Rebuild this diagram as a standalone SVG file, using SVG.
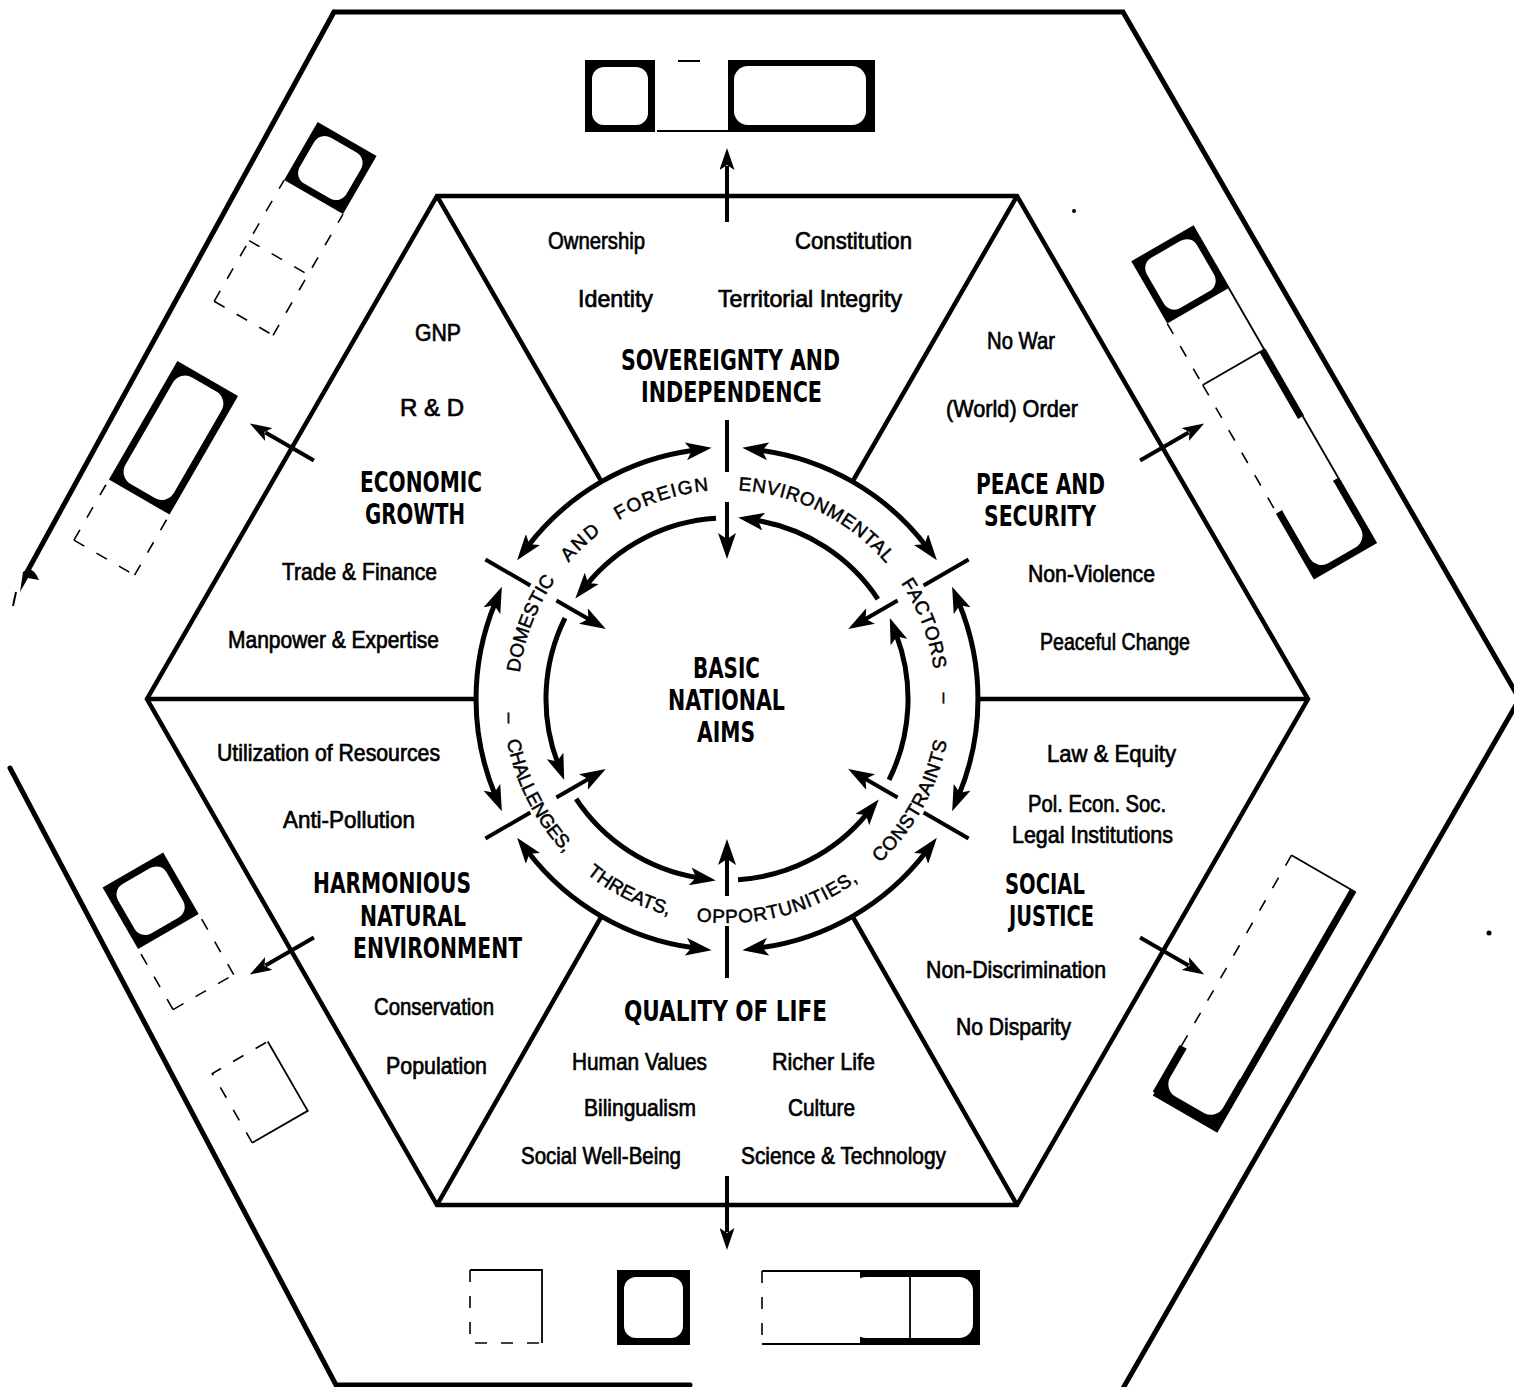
<svg xmlns="http://www.w3.org/2000/svg" width="1514" height="1387" viewBox="0 0 1514 1387">
<defs>
<style>
.ol{fill:none;stroke:#000;stroke-width:5;stroke-linecap:round}
.ln{fill:none;stroke:#000;stroke-width:4.5;stroke-linejoin:miter}
.ring{fill:none;stroke:#000;stroke-width:5}
.tick{fill:none;stroke:#000;stroke-width:4}
.hd{font-family:"Liberation Sans Narrow","DejaVu Sans Condensed","Liberation Sans",sans-serif;font-weight:bold;font-size:29px;text-anchor:middle;fill:#000}
.lb{font-family:"Liberation Sans Narrow","Liberation Sans",sans-serif;font-size:24px;text-anchor:middle;fill:#000;stroke:#000;stroke-width:0.7}
.rt{font-family:"Liberation Sans",Arial,sans-serif;font-size:19px;fill:#000;text-anchor:middle;stroke:#000;stroke-width:0.5}
.bk{fill:#000}
.wh{fill:#fff}
.ds{fill:none;stroke:#000;stroke-width:1.6;stroke-dasharray:12 14}
.tn{fill:none;stroke:#000;stroke-width:1.8}
.thk{fill:none;stroke:#000;stroke-width:7}
.arr{fill:none;stroke:#000;stroke-width:4;marker-end:url(#ah2)}
.dh{marker-start:url(#ah);marker-end:url(#ah)}
.sh{marker-end:url(#ah)}
</style>
<marker id="ah" viewBox="0 0 26 18" refX="8" refY="9" markerWidth="26" markerHeight="18" markerUnits="userSpaceOnUse" orient="auto-start-reverse"><path d="M0,0 L26,9 L0,18 L6,9 z" fill="#000"/></marker>
<marker id="ah2" viewBox="0 0 22 15" refX="4" refY="7.5" markerWidth="22" markerHeight="15" markerUnits="userSpaceOnUse" orient="auto"><path d="M0,0 L22,7.5 L0,15 L5,7.5 z" fill="#000"/></marker>
<path id="tpU" d="M530.6,770.5 A209,209 0 1,1 923.4,770.5" fill="none"/>
<path id="tpL" d="M506.4,660.1 A224,224 0 1,0 947.6,660.1" fill="none"/>
</defs>
<rect width="1514" height="1387" fill="#fff"/>

<g id="outer-hexagon">
<path class="ol" d="M334,12 L1123,12 L1516,693"/>
<path class="ol" d="M1516,705 L1122,1390"/>
<path class="ol" d="M334,12 L27,572"/>
<path class="ol" d="M10,768 L336,1385 L690,1385"/>
<path d="M20,592 L23,572 Q32,564 39,580 L28,578 Z" fill="#000"/>
<path d="M16,592 L13,606" stroke="#000" stroke-width="2"/>
<circle cx="1074" cy="211" r="2" fill="#000"/>
<circle cx="1489" cy="933" r="2.5" fill="#000"/>
</g>

<g id="bands">
<g id="band-top">
<rect class="bk" x="585" y="60" width="70" height="72"/>
<rect class="wh" x="592" y="67" width="56" height="58" rx="12"/>
<path class="tn" d="M678,61 H700 M657,131 H728"/>
<rect class="bk" x="728" y="60" width="147" height="72"/>
<rect class="wh" x="734" y="66" width="132" height="59" rx="14"/>
</g>
<g id="band-upper-right" transform="rotate(60 727 699)">
<rect class="bk" x="550" y="58" width="72" height="72"/>
<rect class="wh" x="557" y="65" width="58" height="58" rx="12"/>
<path class="tn" d="M622,59 H693"/>
<path class="ds" d="M622,130 H693"/>
<path class="thk" d="M693,61 H770"/>
<path class="tn" d="M693,58 V130 M770,59 H841"/>
<path class="ds" d="M693,130 H841"/>
<rect class="bk" x="841" y="58" width="76" height="73"/>
<rect class="wh" x="830" y="65" width="80" height="59" rx="14"/>
</g>
<g id="band-upper-left" transform="rotate(-60 727 699)">
<rect class="bk" x="955" y="56" width="67" height="68"/>
<rect class="wh" x="962" y="63" width="53" height="54" rx="12"/>
<path class="ds" d="M815,56 H955 M815,124 H955 M885,56 V124 M815,56 V124"/>
<rect class="bk" x="608" y="54" width="137" height="70"/>
<rect class="wh" x="615" y="61" width="123" height="56" rx="14"/>
<path class="ds" d="M538,54 H608 M538,124 H608 M538,54 V124"/>
</g>
<g id="band-lower-left" transform="rotate(-120 727 699)">
<rect class="bk" x="805" y="64" width="71" height="70"/>
<rect class="wh" x="812" y="71" width="57" height="56" rx="12"/>
<path class="ds" d="M735,64 H805 M735,134 H805 M735,64 V134"/>
<path class="tn" d="M580,66 V130 H660"/>
<path class="ds" d="M580,66 H660 V130"/>
</g>
<g id="band-lower-right" transform="rotate(120 727 699)">
<path class="thk" d="M580,61 H854 V132"/>
<path class="tn" d="M580,58 V132"/>
<path class="ds" d="M580,132 H854"/>
<rect class="bk" x="800" y="58" width="54" height="76"/>
<rect class="wh" x="780" y="65" width="67" height="61" rx="14"/>
</g>
<g id="band-bottom">
<path class="tn" d="M470,1270 H542 V1343"/>
<path class="ds" d="M470,1270 V1343 H542"/>
<rect class="bk" x="617" y="1270" width="73" height="75"/>
<rect class="wh" x="624" y="1277" width="59" height="61" rx="12"/>
<rect class="bk" x="860" y="1270" width="120" height="75"/>
<rect class="wh" x="852" y="1277" width="121" height="61" rx="14"/>
<path class="tn" d="M762,1271 H860 M762,1344 H860 M910,1272 V1343"/>
<path class="ds" d="M762,1271 V1344"/>
</g>
</g>

<g id="inner-hexagon">
<polygon class="ln" points="437,196 1017,196 1308,699 1017,1205 437,1205 147,699"/>
</g>

<g id="connectors">
<path class="ln" d="M1308,699 L978,699 M1017,196 L852.5,481.6 M437,196 L601.5,481.6 M147,699 L476,699 M437,1205 L601.5,916.4 M1017,1205 L852.5,916.4"/>
<g id="outer-ring">
<path class="ring dh" d="M925.9,545.9 A251,251 0 0 0 760.2,450.2"/>
<path class="ring dh" d="M693.8,450.2 A251,251 0 0 0 528.1,545.9"/>
<path class="ring dh" d="M495.0,603.3 A251,251 0 0 0 495.0,794.7"/>
<path class="ring dh" d="M528.1,852.1 A251,251 0 0 0 693.8,947.8"/>
<path class="ring dh" d="M760.2,947.8 A251,251 0 0 0 925.9,852.1"/>
<path class="ring dh" d="M959.0,794.7 A251,251 0 0 0 959.0,603.3"/>
<path class="tick" d="M923.6,585.5 L968.6,559.5 M727,472 L727,420 M530.4,585.5 L485.4,559.5 M530.4,812.5 L485.4,838.5 M727,926 L727,978 M923.6,812.5 L968.6,838.5"/>
</g>
<g id="inner-ring">
<path class="ring sh" d="M877.9,599.1 A181,181 0 0 0 755.9,520.3"/>
<path class="ring sh" d="M716.0,518.3 A181,181 0 0 0 586.7,584.6"/>
<path class="ring sh" d="M565.0,618.2 A181,181 0 0 0 557.8,763.3"/>
<path class="ring sh" d="M576.1,798.9 A181,181 0 0 0 698.1,877.7"/>
<path class="ring sh" d="M738.0,879.7 A181,181 0 0 0 867.3,813.4"/>
<path class="ring sh" d="M889.0,779.8 A181,181 0 0 0 896.2,634.7"/>
<path class="tick sh" d="M897.6,600.5 L863.8,620"/>
<path class="tick sh" d="M727,502 L727,541"/>
<path class="tick sh" d="M556.4,600.5 L590.2,620"/>
<path class="tick sh" d="M556.4,797.5 L590.2,778"/>
<path class="tick sh" d="M727,896 L727,857"/>
<path class="tick sh" d="M897.6,797.5 L863.8,778"/>
</g>
<g id="band-arrows">
<path class="arr" d="M727,222 L727,166"/>
<path class="arr" d="M727,222 L727,166" transform="rotate(60 727 699)"/>
<path class="arr" d="M727,222 L727,166" transform="rotate(-60 727 699)"/>
<path class="arr" d="M727,222 L727,166" transform="rotate(120 727 699)"/>
<path class="arr" d="M727,222 L727,166" transform="rotate(-120 727 699)"/>
<path class="arr" d="M727,222 L727,166" transform="rotate(180 727 699)"/>
</g>
</g>

<g id="ring-text">
<text class="rt" letter-spacing="0"><textPath href="#tpU" startOffset="149.6">DOMESTIC</textPath></text>
<text class="rt" letter-spacing="2"><textPath href="#tpU" startOffset="244.4">AND</textPath></text>
<text class="rt" letter-spacing="1.5"><textPath href="#tpU" startOffset="335.6">FOREIGN</textPath></text>
<text class="rt" letter-spacing="0.6"><textPath href="#tpU" startOffset="497.5">ENVIRONMENTAL</textPath></text>
<text class="rt" letter-spacing="0.6"><textPath href="#tpU" startOffset="653">FACTORS</textPath></text>
<text class="rt" letter-spacing="-0.5"><textPath href="#tpL" startOffset="144.7">CHALLENGES,</textPath></text>
<text class="rt" letter-spacing="0"><textPath href="#tpL" startOffset="285.4">THREATS,</textPath></text>
<text class="rt" letter-spacing="0.8"><textPath href="#tpL" startOffset="445.7">OPPORTUNITIES,</textPath></text>
<text class="rt" letter-spacing="0.5"><textPath href="#tpL" startOffset="629.4">CONSTRAINTS</textPath></text>
<text class="rt" transform="translate(510,718) rotate(90)" y="6">–</text>
<text class="rt" transform="translate(945,698) rotate(90)" y="6">–</text>
</g>

<g id="basic-national-aims">
<text class="hd" x="726.5" y="678" textLength="67" lengthAdjust="spacingAndGlyphs">BASIC</text>
<text class="hd" x="726.5" y="710" textLength="117" lengthAdjust="spacingAndGlyphs">NATIONAL</text>
<text class="hd" x="726" y="742" textLength="58" lengthAdjust="spacingAndGlyphs">AIMS</text>
</g>

<g id="sovereignty-and-independence">
<text class="lb" x="596.5" y="249" textLength="97" lengthAdjust="spacingAndGlyphs">Ownership</text>
<text class="lb" x="853.5" y="249" textLength="117" lengthAdjust="spacingAndGlyphs">Constitution</text>
<text class="lb" x="615.5" y="307" textLength="75" lengthAdjust="spacingAndGlyphs">Identity</text>
<text class="lb" x="810" y="307" textLength="184" lengthAdjust="spacingAndGlyphs">Territorial Integrity</text>
<text class="hd" x="730.5" y="370" textLength="219" lengthAdjust="spacingAndGlyphs">SOVEREIGNTY AND</text>
<text class="hd" x="731.5" y="402" textLength="181" lengthAdjust="spacingAndGlyphs">INDEPENDENCE</text>
</g>

<g id="economic-growth">
<text class="lb" x="438" y="341" textLength="46" lengthAdjust="spacingAndGlyphs">GNP</text>
<text class="lb" x="432" y="416" textLength="64" lengthAdjust="spacingAndGlyphs">R &amp; D</text>
<text class="hd" x="421" y="492" textLength="122" lengthAdjust="spacingAndGlyphs">ECONOMIC</text>
<text class="hd" x="415" y="524" textLength="100" lengthAdjust="spacingAndGlyphs">GROWTH</text>
<text class="lb" x="359.5" y="580" textLength="155" lengthAdjust="spacingAndGlyphs">Trade &amp; Finance</text>
<text class="lb" x="333.5" y="648" textLength="211" lengthAdjust="spacingAndGlyphs">Manpower &amp; Expertise</text>
</g>

<g id="peace-and-security">
<text class="lb" x="1021" y="349" textLength="68" lengthAdjust="spacingAndGlyphs">No War</text>
<text class="lb" x="1012" y="417" textLength="132" lengthAdjust="spacingAndGlyphs">(World) Order</text>
<text class="hd" x="1040.5" y="494" textLength="129" lengthAdjust="spacingAndGlyphs">PEACE AND</text>
<text class="hd" x="1040" y="526" textLength="112" lengthAdjust="spacingAndGlyphs">SECURITY</text>
<text class="lb" x="1091.5" y="582" textLength="127" lengthAdjust="spacingAndGlyphs">Non-Violence</text>
<text class="lb" x="1115" y="650" textLength="150" lengthAdjust="spacingAndGlyphs">Peaceful Change</text>
</g>

<g id="harmonious-natural-environment">
<text class="lb" x="328.5" y="761" textLength="223" lengthAdjust="spacingAndGlyphs">Utilization of Resources</text>
<text class="lb" x="349" y="828" textLength="132" lengthAdjust="spacingAndGlyphs">Anti-Pollution</text>
<text class="hd" x="392" y="893" textLength="158" lengthAdjust="spacingAndGlyphs">HARMONIOUS</text>
<text class="hd" x="413" y="926" textLength="106" lengthAdjust="spacingAndGlyphs">NATURAL</text>
<text class="hd" x="437.5" y="958" textLength="169" lengthAdjust="spacingAndGlyphs">ENVIRONMENT</text>
<text class="lb" x="434" y="1015" textLength="120" lengthAdjust="spacingAndGlyphs">Conservation</text>
<text class="lb" x="436.5" y="1074" textLength="101" lengthAdjust="spacingAndGlyphs">Population</text>
</g>

<g id="social-justice">
<text class="lb" x="1111.5" y="762" textLength="129" lengthAdjust="spacingAndGlyphs">Law &amp; Equity</text>
<text class="lb" x="1097" y="812" textLength="138" lengthAdjust="spacingAndGlyphs">Pol. Econ. Soc.</text>
<text class="lb" x="1092.5" y="843" textLength="161" lengthAdjust="spacingAndGlyphs">Legal Institutions</text>
<text class="hd" x="1045" y="894" textLength="80" lengthAdjust="spacingAndGlyphs">SOCIAL</text>
<text class="hd" x="1051.5" y="926" textLength="85" lengthAdjust="spacingAndGlyphs">JUSTICE</text>
<text class="lb" x="1016" y="978" textLength="180" lengthAdjust="spacingAndGlyphs">Non-Discrimination</text>
<text class="lb" x="1013.5" y="1035" textLength="115" lengthAdjust="spacingAndGlyphs">No Disparity</text>
</g>

<g id="quality-of-life">
<text class="hd" x="725.5" y="1021" textLength="203" lengthAdjust="spacingAndGlyphs">QUALITY OF LIFE</text>
<text class="lb" x="639.5" y="1070" textLength="135" lengthAdjust="spacingAndGlyphs">Human Values</text>
<text class="lb" x="823.5" y="1070" textLength="103" lengthAdjust="spacingAndGlyphs">Richer Life</text>
<text class="lb" x="640" y="1116" textLength="112" lengthAdjust="spacingAndGlyphs">Bilingualism</text>
<text class="lb" x="821.5" y="1116" textLength="67" lengthAdjust="spacingAndGlyphs">Culture</text>
<text class="lb" x="601" y="1164" textLength="160" lengthAdjust="spacingAndGlyphs">Social Well-Being</text>
<text class="lb" x="843.5" y="1164" textLength="205" lengthAdjust="spacingAndGlyphs">Science &amp; Technology</text>
</g>
</svg>
